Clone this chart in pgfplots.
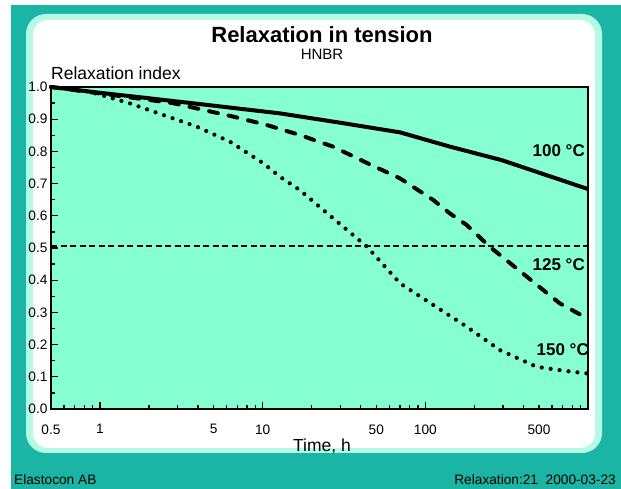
\documentclass[border=0pt]{standalone}
\usepackage{fontspec}
\setmainfont{Liberation Sans}
\usepackage{pgfplots}
\pgfplotsset{compat=1.18}
\definecolor{teal1}{RGB}{27,181,165}
\definecolor{ring}{RGB}{182,250,230}
\definecolor{plotbg}{RGB}{134,255,210}
\begin{document}
\begin{tikzpicture}[x=1bp,y=1bp]
\useasboundingbox (0,0) rectangle (621,489);
\fill[white] (0,0) rectangle (621,489);
\fill[teal1] (11,0) rectangle (621,484);
\fill[ring, rounded corners=20bp] (26,36) rectangle (602,475);
\fill[white, rounded corners=15bp] (33,41) rectangle (595,469);
\node[anchor=base, font=\fontsize{22bp}{24bp}\selectfont\bfseries] at (322,446) {Relaxation in tension};
\node[anchor=base, font=\fontsize{15bp}{18bp}\selectfont] at (322,429) {HNBR};
\node[anchor=base west, inner sep=0pt, font=\fontsize{17.5bp}{20bp}\selectfont] at (51,409) {Relaxation index};
\begin{axis}[
  at={(51bp,80bp)}, anchor=south west,
  width=537bp, height=322bp, scale only axis,
  xmode=log, xmin=0.5, xmax=1000, ymin=0, ymax=1,
  axis background/.style={fill=plotbg},
  axis line style={line width=2bp},
  every tick/.style={line width=1.3bp, black},
  tick align=inside,
  xtick pos=left, ytick pos=left,
  major tick length=7bp, minor tick length=4bp,
  xtick={1,10,100}, xticklabels={1,10,100},
  minor xtick={0.6,0.7,0.8,0.9,2,3,4,6,7,8,9,20,30,40,60,70,80,90,200,300,400,600,700,800,900},
  extra x ticks={0.5,5,50,500}, extra x tick labels={0.5,5,50,500},
  extra x tick style={major tick length=4bp},
  ytick={0,0.1,...,1.0}, minor y tick num=1,
  /pgf/number format/assume math mode=true,
  yticklabel style={/pgf/number format/fixed, /pgf/number format/fixed zerofill, /pgf/number format/precision=1},
  tick label style={font=\fontsize{13.7bp}{16bp}\selectfont},
  xticklabel style={yshift=-12bp},
  clip=false,
]
\addplot[black, line width=2bp, dash pattern=on 6bp off 3.5bp] coordinates {(0.5,0.507)(1000,0.507)};
\addplot[black, line width=4bp, line join=round] coordinates {
(0.5,1.0)(1,0.982)(2,0.965)(4.1,0.947)(12.8,0.918)(30,0.889)(70,0.859)(141,0.815)(294,0.773)(1000,0.683)};
\addplot[black, line width=4bp, line cap=round, line join=round, dash pattern=on 9bp off 11bp] coordinates {
(0.5,1.0)(1,0.98)(2.8,0.95)(4.3,0.929)(6.6,0.908)(10.6,0.882)(16.9,0.851)(27,0.815)(43.8,0.764)(70,0.716)(112,0.649)(141,0.608)(179,0.572)(250,0.503)(400,0.42)(500,0.38)(671,0.328)(1000,0.28)};
\addplot[black, line width=4.2bp, line cap=round, dash pattern=on 0bp off 9bp] coordinates {
(0.5,1.0)(0.87,0.985)(1.53,0.949)(2.45,0.913)(3.93,0.877)(6.3,0.83)(10.1,0.763)(12.8,0.721)(16.9,0.68)(27,0.593)(43.8,0.504)(70,0.39)(100,0.339)(179,0.256)(287,0.183)(483,0.131)(705,0.119)(1000,0.11)};
\end{axis}
\node[anchor=base east, inner sep=0pt, font=\fontsize{17bp}{20bp}\selectfont\bfseries] at (585,332) {100 °C};
\node[anchor=base east, inner sep=0pt, font=\fontsize{17bp}{20bp}\selectfont\bfseries] at (585,218) {125 °C};
\node[anchor=base east, inner sep=0pt, font=\fontsize{17bp}{20bp}\selectfont\bfseries] at (589,133) {150 °C};
\node[anchor=base, font=\fontsize{17.5bp}{20bp}\selectfont] at (322,37) {Time, h};
\node[anchor=base west, inner sep=0pt, font=\fontsize{13.7bp}{16bp}\selectfont] at (14,4) {Elastocon AB};
\node[anchor=base east, inner sep=0pt, font=\fontsize{13.7bp}{16bp}\selectfont] at (616,4) {Relaxation:21\ \ 2000-03-23};
\end{tikzpicture}
\end{document}
